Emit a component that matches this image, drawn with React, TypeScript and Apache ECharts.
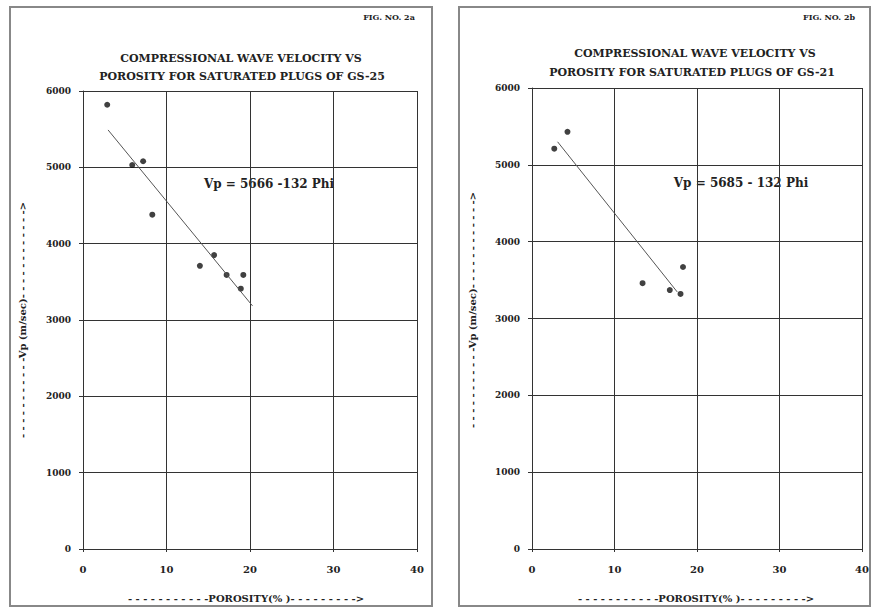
import React, { useEffect, useRef } from "react";
import * as echarts from "echarts";

// Left panel (GS-25)
const leftPorosity = [2.9, 5.9, 7.2, 8.3, 14.0, 15.7, 17.2, 19.2, 18.9];
const leftVp = [5820, 5030, 5080, 4380, 3710, 3850, 3590, 3590, 3410];
const leftFitPorosity = [3.0, 20.3];
const leftFitVp = [5490, 3185];

// Right panel (GS-21)
const rightPorosity = [2.7, 4.3, 13.4, 16.7, 18.0, 18.3];
const rightVp = [5210, 5430, 3460, 3370, 3320, 3670];
const rightFitPorosity = [3.1, 17.6];
const rightFitVp = [5300, 3346];

const xTicks = [0, 10, 20, 30, 40];
const yTicks = [0, 1000, 2000, 3000, 4000, 5000, 6000];

const titleLine1 = "COMPRESSIONAL WAVE VELOCITY VS";
const leftTitleLine2 = "POROSITY FOR SATURATED PLUGS OF GS-25";
const rightTitleLine2 = "POROSITY FOR SATURATED PLUGS OF GS-21";
const leftFig = "FIG. NO. 2a";
const rightFig = "FIG. NO. 2b";
const leftEquation = "Vp = 5666 -132 Phi";
const rightEquation = "Vp = 5685 - 132 Phi";
const xName = "- - - - - - - - - - -POROSITY(% )- - - - - - - - ->";
const yName = "- - - - - - - - - - -Vp (m/sec)- - - - - - - - - - - ->";

const FONT = "DejaVu Serif";
const INK = "#222";
const GRIDC = "#333";

function pairs(xs: number[], ys: number[]) {
  return xs.map((x, i) => [x, ys[i]]);
}

export default function App() {
  const ref = useRef<HTMLDivElement>(null);
  useEffect(() => {
    if (!ref.current) return;
    const chart = echarts.init(ref.current, undefined, { renderer: "svg" });

    const xAxisBase = (gridIndex: number) => ({
      type: "value" as const,
      gridIndex,
      min: xTicks[0],
      max: xTicks[xTicks.length - 1],
      interval: 10,
      axisLine: { show: true, lineStyle: { color: GRIDC, width: 1 } },
      axisTick: { show: true, inside: false, length: 3, lineStyle: { color: GRIDC } },
      splitLine: { show: true, lineStyle: { color: GRIDC, width: 1 } },
      axisLabel: {
        color: INK,
        fontFamily: FONT,
        fontWeight: "bold" as const,
        fontSize: 10,
        margin: 15,
        formatter: (v: number) => String(v),
      },
    });
    const yAxisBase = (gridIndex: number) => ({
      type: "value" as const,
      gridIndex,
      min: yTicks[0],
      max: yTicks[yTicks.length - 1],
      interval: 1000,
      axisLine: { show: true, lineStyle: { color: GRIDC, width: 1 } },
      axisTick: { show: true, inside: false, length: 4, lineStyle: { color: GRIDC } },
      splitLine: { show: true, lineStyle: { color: GRIDC, width: 1 } },
      axisLabel: {
        color: INK,
        fontFamily: FONT,
        fontWeight: "bold" as const,
        fontSize: 9,
        margin: 12,
        formatter: (v: number) => String(v),
      },
    });

    const textStyle = (size: number) => ({
      fill: INK,
      font: `bold ${size}px "${FONT}"`,
      textAlign: "center" as const,
      textVerticalAlign: "middle" as const,
    });

    chart.setOption({
      animation: false,
      backgroundColor: "#fff",
      grid: [
        { left: 83, right: 455, top: 91, bottom: 60 },
        { left: 532, right: 8, top: 88, bottom: 60 },
      ],
      xAxis: [xAxisBase(0), xAxisBase(1)],
      yAxis: [yAxisBase(0), yAxisBase(1)],
      series: [
        {
          type: "line",
          xAxisIndex: 0,
          yAxisIndex: 0,
          data: pairs(leftFitPorosity, leftFitVp),
          showSymbol: false,
          lineStyle: { color: "#555", width: 1 },
        },
        {
          type: "scatter",
          xAxisIndex: 0,
          yAxisIndex: 0,
          data: pairs(leftPorosity, leftVp),
          symbol: "circle",
          symbolSize: 6,
          itemStyle: { color: "#111" },
        },
        {
          type: "line",
          xAxisIndex: 1,
          yAxisIndex: 1,
          data: pairs(rightFitPorosity, rightFitVp),
          showSymbol: false,
          lineStyle: { color: "#555", width: 1 },
        },
        {
          type: "scatter",
          xAxisIndex: 1,
          yAxisIndex: 1,
          data: pairs(rightPorosity, rightVp),
          symbol: "circle",
          symbolSize: 6,
          itemStyle: { color: "#111" },
        },
      ],
      graphic: [
        { type: "rect", shape: { x: 10, y: 7, width: 422, height: 599 }, style: { fill: "none", stroke: "#888", lineWidth: 2 }, z: 0 },
        { type: "rect", shape: { x: 459, y: 7, width: 411, height: 599 }, style: { fill: "none", stroke: "#888", lineWidth: 2 }, z: 0 },
        { type: "text", x: 389, y: 17, style: { ...textStyle(8), text: leftFig } },
        { type: "text", x: 829, y: 17, style: { ...textStyle(8), text: rightFig } },
        { type: "text", x: 241, y: 58, style: { ...textStyle(11), text: titleLine1 } },
        { type: "text", x: 242, y: 76, style: { ...textStyle(11), text: leftTitleLine2 } },
        { type: "text", x: 695, y: 53, style: { ...textStyle(11), text: titleLine1 } },
        { type: "text", x: 692, y: 72, style: { ...textStyle(11), text: rightTitleLine2 } },
        { type: "text", x: 269, y: 184, style: { ...textStyle(12), text: leftEquation } },
        { type: "text", x: 741, y: 183, style: { ...textStyle(12), text: rightEquation } },
        { type: "text", x: 246, y: 598, style: { ...textStyle(10), text: xName } },
        { type: "text", x: 696, y: 598, style: { ...textStyle(10), text: xName } },
        { type: "text", x: 22, y: 320, rotation: Math.PI / 2, style: { ...textStyle(10), text: yName } },
        { type: "text", x: 472, y: 310, rotation: Math.PI / 2, style: { ...textStyle(10), text: yName } },
      ],
    });
    return () => chart.dispose();
  }, []);
  return (
    <div
      ref={ref}
      style={{ position: "fixed", left: 0, top: 0, width: 872, height: 609 }}
    />
  );
}
